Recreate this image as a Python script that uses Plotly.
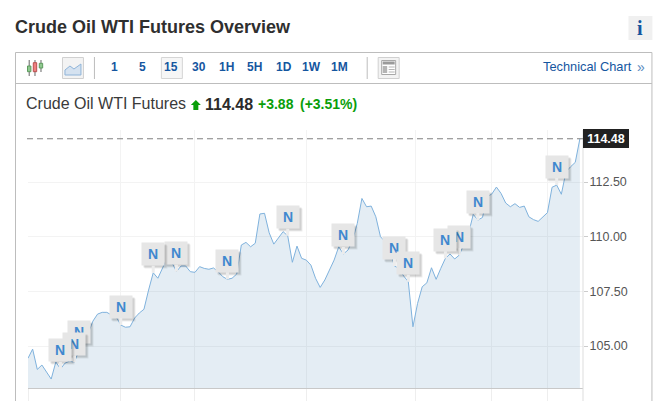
import plotly.graph_objects as go

PRICES = [104.44,104.86,103.93,104.13,103.81,103.49,104.27,103.95,104.22,104.31,
104.25,104.81,105.27,105.59,106.14,106.46,106.54,106.54,106.42,106.34,
105.96,105.86,105.88,106.28,106.51,106.68,107.56,108.35,108.10,108.55,
109.02,108.84,108.40,108.66,108.66,108.40,108.37,108.63,108.55,108.51,
108.57,108.40,108.17,108.05,108.10,108.29,109.62,109.74,109.54,109.70,
111.04,111.07,110.18,109.66,109.92,110.23,110.04,108.83,109.57,109.01,
108.93,108.70,108.10,107.68,108.02,108.48,108.93,109.54,109.21,109.39,
109.85,110.61,111.75,111.37,111.40,110.91,110.00,109.77,109.39,108.66,
108.55,108.20,107.94,105.88,106.95,107.71,107.89,108.58,108.05,108.55,
109.01,109.21,108.98,109.16,109.70,110.15,111.02,110.76,110.88,111.83,
111.95,112.27,111.98,111.54,111.37,111.51,111.34,111.40,110.91,110.78,
110.70,110.88,111.10,112.26,112.36,111.94,112.97,113.20,113.40,114.48]
TIME_INDEX = list(range(len(PRICES)))
GRID_X = [0, 20, 36, 60, 83.5, 100, 112]
Y_TICKS = [105, 107.5, 110, 112.5]
NEWS_ORDER = [114, 97, 93, 90, 79, 82, 68, 56, 43, 32, 27, 20, 11, 10, 7]
LAST = PRICES[-1]
INTERVALS = [("1",115),("5",143),("15",171.5),("30",199),("1H",227),("5H",255),("1D",284),("1W",311.5),("1M",340)]

W, H = 669, 401
L, R, T, B = 28, 583.5, 130, 388
def px(x): return (x - L) / (R - L)
def py(y): return (B - y) / (B - T)

BLUE = "#15569f"
GREEN = "#0a9e0a"
shapes, ann = [], []

def rect(x0, y0, x1, y1, fill=None, line=None, lw=1):
    shapes.append(dict(type="rect", xref="paper", yref="paper", x0=px(x0), x1=px(x1), y0=py(y0), y1=py(y1),
                       fillcolor=fill or "rgba(0,0,0,0)", line=dict(color=line or "rgba(0,0,0,0)", width=lw if line else 0)))
def seg(x0, y0, x1, y1, color, lw=1):
    shapes.append(dict(type="line", xref="paper", yref="paper", x0=px(x0), x1=px(x1), y0=py(y0), y1=py(y1),
                       line=dict(color=color, width=lw)))
def text(x, y, s, size, color, bold=False, anchor="left", family="Liberation Sans, Arial, sans-serif"):
    ann.append(dict(xref="paper", yref="paper", x=px(x), y=py(y), text=f"<b>{s}</b>" if bold else s, showarrow=False,
                    xanchor=anchor, yanchor="middle", font=dict(size=size, color=color, family=family),
                    borderpad=0, borderwidth=0))

# frame
seg(15.5, 52.5, 652.5, 52.5, "#bdbdbd")
seg(15.5, 83.5, 652.5, 83.5, "#bdbdbd")
seg(15.5, 52.5, 15.5, 401, "#bdbdbd")
seg(652.5, 52.5, 652.5, 401, "#bdbdbd")
seg(583.5, 130, 583.5, 401, "#dddddd")

# title + info
text(15, 27, "Crude Oil WTI Futures Overview", 18, "#2f2f2f", True)
rect(629, 16, 653, 40, fill="#f0f0f0")
text(641, 28, "i", 20, BLUE, True, "center", "Liberation Serif, serif")

# toolbar icons
for cx, y0, y1, c, e, t, b in [(29.2,60,76,"#8fc98f","#5d9a5d",66,71.7),(35,60,76,"#ef7f7f","#b85050",62.7,71.7),(41,60,72,"#8fc98f","#5d9a5d",63.3,68)]:
    seg(cx, y0, cx, y1, "#666666")
    rect(cx-1.7, t, cx+1.7, b, fill=c, line=e)
rect(62.5, 57.5, 83.5, 78.5, fill="#f3f3f3", line="#d0d0d0")
shapes.append(dict(type="path", xref="paper", yref="paper",
    path=f"M {px(65)} {py(70)} L {px(70)} {py(66)} L {px(74)} {py(69)} L {px(81)} {py(64)} L {px(81)} {py(75)} L {px(65)} {py(75)} Z",
    fillcolor="#d5e2f0", line=dict(color="#8fb4d9", width=1)))
seg(94.5, 57, 94.5, 79, "#bdbdbd")
rect(161.5, 57.5, 182.5, 78.5, fill="#f6f6f6", line="#d5d5d5")
for lab, cx in INTERVALS:
    text(cx, 67, lab, 12, BLUE, True, "center")
seg(367.5, 57, 367.5, 79, "#bdbdbd")
rect(378.5, 57.5, 399.5, 78.5, fill="#f3f3f3", line="#d0d0d0")
rect(382, 60.5, 396, 74.5, fill="#ffffff", line="#a8a8a8")
rect(383, 61.5, 395, 64.5, fill="#9a9a9a")
rect(383, 66, 387.5, 73, fill="#b5b5b5")
for yy in (67, 69.5, 72):
    seg(389, yy, 395, yy, "#b5b5b5")
text(632.5, 66.5, "Technical Chart", 12.8, BLUE, False, "right")
text(645.5, 67, "»", 14, "#5a8ac0", False, "right")

# quote line
text(26, 103, "Crude Oil WTI Futures", 16, "#3a3a3a")
shapes.append(dict(type="path", xref="paper", yref="paper",
    path=f"M {px(196)} {py(100)} L {px(201)} {py(105)} L {px(198.5)} {py(105)} L {px(198.5)} {py(110)} L {px(193.5)} {py(110)} L {px(193.5)} {py(105)} L {px(191)} {py(105)} Z",
    fillcolor=GREEN, line=dict(width=0)))
text(205, 104, "114.48", 16, "#2b2b2b", True)
text(258, 104, "+3.88", 14, GREEN, True)
text(300, 104, "(+3.51%)", 14, GREEN, True)

# last price line
shapes.append(dict(type="line", xref="paper", yref="y", x0=px(27), x1=1, y0=LAST, y1=LAST,
                   line=dict(color="#808080", width=1, dash="6px,4px")))
ann.append(dict(xref="paper", yref="y", x=px(584), y=LAST, text=f"<b>{LAST:.2f}</b>", showarrow=False, xanchor="left", yanchor="middle",
                width=44, height=17, bgcolor="#212121", borderwidth=0, font=dict(size=12.5, color="#ffffff", family="Liberation Sans, Arial, sans-serif")))

# news flags, each hung off its price point
OFF = -18.5
def flag(i):
    v = PRICES[i]
    for dx, col in ((3, "rgba(0,0,0,0.07)"), (2, "rgba(0,0,0,0.12)")):
        ann.append(dict(x=i, y=v, xref="x", yref="y", text=" ", showarrow=False, xshift=dx, yshift=-OFF-dx, width=20, height=20,
                        bgcolor=col, font=dict(size=12)))
    ann.append(dict(x=i, y=v, xref="x", yref="y", text="<b>N</b>", showarrow=True, arrowhead=0, arrowwidth=3, arrowcolor="#ececec",
                    ax=0, ay=OFF, standoff=0, startstandoff=0, width=20, height=20, bgcolor="#e6e6e6",
                    font=dict(size=14, color="#3f88cf", family="Liberation Sans, Arial, sans-serif")))
for i in NEWS_ORDER:
    flag(i)

fig = go.Figure(go.Scatter(x=TIME_INDEX, y=PRICES, mode="lines", fill="tozeroy",
                           fillcolor="rgba(65,125,180,0.14)", line=dict(color="#7fb2dd", width=1), hoverinfo="skip"))
fig.update_layout(width=W, height=H, autosize=False, showlegend=False,
    margin=dict(l=L, r=W-R, t=T, b=H-B, pad=0, autoexpand=False), paper_bgcolor="#ffffff", plot_bgcolor="#ffffff",
    shapes=shapes, annotations=ann,
    xaxis=dict(automargin=False, range=[0, (R-L)/4.642], tickvals=GRID_X, ticktext=[""]*len(GRID_X), ticks="outside", ticklen=13, tickcolor="#eeeeee",
               showgrid=True, gridcolor="#f3f3f3", gridwidth=1, zeroline=False, showline=True, linecolor="#c8c8c8", linewidth=1, fixedrange=True),
    yaxis=dict(automargin=False, range=[103.08, 114.88], side="right", tickvals=Y_TICKS, tickformat=".2f", ticks="outside", ticklen=4, tickcolor="#cccccc",
               ticklabelstandoff=-1, showgrid=True, gridcolor="#f3f3f3", gridwidth=1, zeroline=False, showline=False, fixedrange=True,
               tickfont=dict(size=12.5, color="#555555", family="Liberation Sans, Arial, sans-serif")))
fig.write_html("out.html", config={"displayModeBar": False}, post_script="document.body.style.margin='0';document.documentElement.style.overflow='hidden';")
